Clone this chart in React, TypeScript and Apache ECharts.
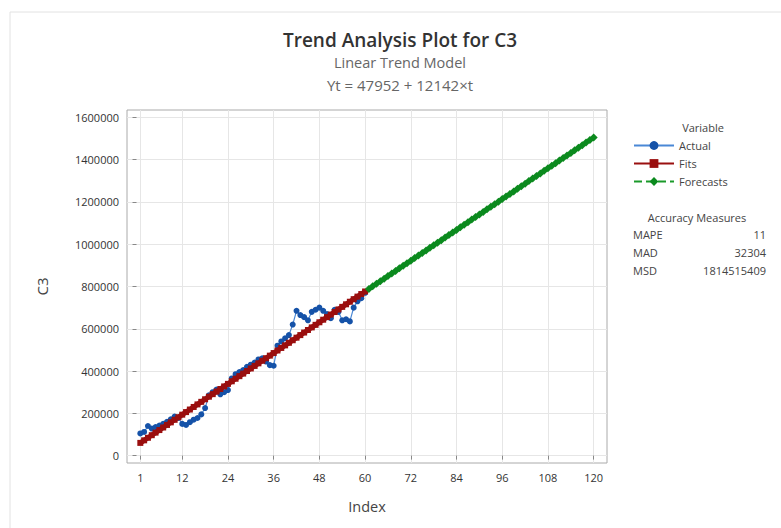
import React, { useEffect, useRef } from "react";
import * as echarts from "echarts";

const actualValues = [
  105000, 112000, 140000, 128000, 135000, 142000, 150000, 160000, 172000, 185000,
  178000, 150000, 145000, 158000, 170000, 178000, 195000, 225000, 285000, 300000,
  312000, 290000, 300000, 310000, 365000, 385000, 395000, 405000, 420000, 430000,
  440000, 455000, 460000, 445000, 428000, 425000, 520000, 540000, 555000, 570000,
  620000, 685000, 665000, 655000, 640000, 680000, 690000, 700000, 685000, 670000,
  650000, 690000, 680000, 640000, 645000, 635000, 700000, 730000, 745000, 770000,
];

// Fitted trend values, t = 1..60 (Yt = 47952 + 12142×t)
const fitValues = [
  60094, 72236, 84378, 96520, 108662, 120804, 132946, 145088, 157230, 169372,
  181514, 193656, 205798, 217940, 230082, 242224, 254366, 266508, 278650, 290792,
  302934, 315076, 327218, 339360, 351502, 363644, 375786, 387928, 400070, 412212,
  424354, 436496, 448638, 460780, 472922, 485064, 497206, 509348, 521490, 533632,
  545774, 557916, 570058, 582200, 594342, 606484, 618626, 630768, 642910, 655052,
  667194, 679336, 691478, 703620, 715762, 727904, 740046, 752188, 764330, 776472,
];

// Forecasts, t = 61..120
const forecastValues = [
  788614, 800756, 812898, 825040, 837182, 849324, 861466, 873608, 885750, 897892,
  910034, 922176, 934318, 946460, 958602, 970744, 982886, 995028, 1007170, 1019312,
  1031454, 1043596, 1055738, 1067880, 1080022, 1092164, 1104306, 1116448, 1128590, 1140732,
  1152874, 1165016, 1177158, 1189300, 1201442, 1213584, 1225726, 1237868, 1250010, 1262152,
  1274294, 1286436, 1298578, 1310720, 1322862, 1335004, 1347146, 1359288, 1371430, 1383572,
  1395714, 1407856, 1419998, 1432140, 1444282, 1456424, 1468566, 1480708, 1492850, 1504992,
];

const xTicks = [1, 12, 24, 36, 48, 60, 72, 84, 96, 108, 120];
const yTicks = [0, 200000, 400000, 600000, 800000, 1000000, 1200000, 1400000, 1600000];

const accuracyLabels = ["MAPE", "MAD", "MSD"];
const accuracyValues = ["11", "32304", "1814515409"];

const FONT = "'Open Sans', 'Noto Sans', sans-serif";

export default function App() {
  const ref = useRef<HTMLDivElement>(null);
  useEffect(() => {
    if (!ref.current) return;
    const chart = echarts.init(ref.current, undefined, { renderer: "svg" });

    const actualData = actualValues.map((v, i) => [i + 1, v]);
    const fitData = fitValues.map((v, i) => [i + 1, v]);
    const forecastData = forecastValues.map((v, i) => [i + 61, v]);

    const graphics: any[] = [
      {
        type: "rect",
        shape: { x: 10, y: 12, width: 790, height: 530 },
        style: { fill: "none", stroke: "#e2e2e2", lineWidth: 1 },
        silent: true,
      },
      {
        type: "text",
        x: 400,
        y: 40,
        style: { text: "Trend Analysis Plot for C3", fill: "#333", font: `600 19px ${FONT}`, textAlign: "center", textVerticalAlign: "middle" },
      },
      {
        type: "text",
        x: 400,
        y: 62,
        style: { text: "Linear Trend Model", fill: "#666", font: `14.5px ${FONT}`, textAlign: "center", textVerticalAlign: "middle" },
      },
      {
        type: "text",
        x: 400,
        y: 85,
        style: { text: "Yt = 47952 + 12142×t", fill: "#666", font: `15px ${FONT}`, textAlign: "center", textVerticalAlign: "middle" },
      },
      {
        type: "text",
        x: 703,
        y: 127,
        style: { text: "Variable", fill: "#444", font: `11px ${FONT}`, textAlign: "center", textVerticalAlign: "middle" },
      },
      {
        type: "text",
        x: 697,
        y: 217,
        style: { text: "Accuracy Measures", fill: "#444", font: `11px ${FONT}`, textAlign: "center", textVerticalAlign: "middle" },
      },
    ];
    accuracyLabels.forEach((lab, i) => {
      graphics.push({
        type: "text",
        x: 633,
        y: 234 + i * 18,
        style: { text: lab, fill: "#444", font: `11px ${FONT}`, textAlign: "left", textVerticalAlign: "middle" },
      });
      graphics.push({
        type: "text",
        x: 766,
        y: 234 + i * 18,
        style: { text: accuracyValues[i], fill: "#444", font: `11px ${FONT}`, textAlign: "right", textVerticalAlign: "middle" },
      });
    });

    chart.setOption({
      animation: false,
      backgroundColor: "#fff",
      textStyle: { fontFamily: FONT },
      grid: {
        left: 127,
        right: 174,
        top: 110,
        bottom: 65,
        show: true,
        borderColor: "#aaa",
        borderWidth: 1,
        backgroundColor: "#fff",
      },
      legend: {
        orient: "vertical",
        left: 628,
        top: 135,
        itemWidth: 40,
        itemHeight: 11,
        itemGap: 7,
        textStyle: { fontSize: 11, color: "#444", fontFamily: FONT },
        data: ["Actual", "Fits", "Forecasts"],
      },
      xAxis: {
        type: "value",
        min: -2.5,
        max: 123.5,
        name: "Index",
        nameLocation: "middle",
        nameGap: 36,
        nameTextStyle: { fontSize: 14.5, color: "#444", fontFamily: FONT },
        axisLine: { show: false },
        axisTick: { show: true, length: 4, customValues: xTicks, lineStyle: { color: "#888" } },
        axisLabel: { customValues: xTicks, fontSize: 11, color: "#333", margin: 9, formatter: (v: number) => String(v) },
        splitLine: { show: true, lineStyle: { color: "#e6e6e6", width: 1 } },
      },
      yAxis: {
        type: "value",
        min: -35000,
        max: 1635000,
        name: "C3",
        nameLocation: "middle",
        nameGap: 78,
        nameTextStyle: { fontSize: 15, color: "#444", fontFamily: FONT },
        axisLine: { show: false },
        axisTick: { show: true, length: 4, customValues: yTicks, lineStyle: { color: "#888" } },
        axisLabel: { customValues: yTicks, fontSize: 11, color: "#333", margin: 8, formatter: (v: number) => String(v) },
        splitLine: { show: true, lineStyle: { color: "#e6e6e6", width: 1 } },
      },
      graphic: graphics,
      series: [
        {
          name: "Actual",
          type: "line",
          data: actualData,
          symbol: "circle",
          symbolSize: 6,
          itemStyle: { color: "#1552a8" },
          lineStyle: { color: "#4a88d6", width: 1.2 },
          z: 3,
        },
        {
          name: "Fits",
          type: "line",
          data: fitData,
          symbol: "rect",
          symbolSize: 6,
          itemStyle: { color: "#9a0e0e" },
          lineStyle: { color: "#9a1010", width: 5 },
          z: 4,
        },
        {
          name: "Forecasts",
          type: "line",
          data: forecastData,
          symbol: "diamond",
          symbolSize: 8,
          itemStyle: { color: "#0b8a1e" },
          lineStyle: { color: "#1a9a2a", width: 3, type: "dashed" },
          z: 4,
        },
      ],
    });

    return () => chart.dispose();
  }, []);

  return (
    <div
      ref={ref}
      style={{ position: "fixed", left: 0, top: 0, width: 781, height: 528 }}
    />
  );
}
